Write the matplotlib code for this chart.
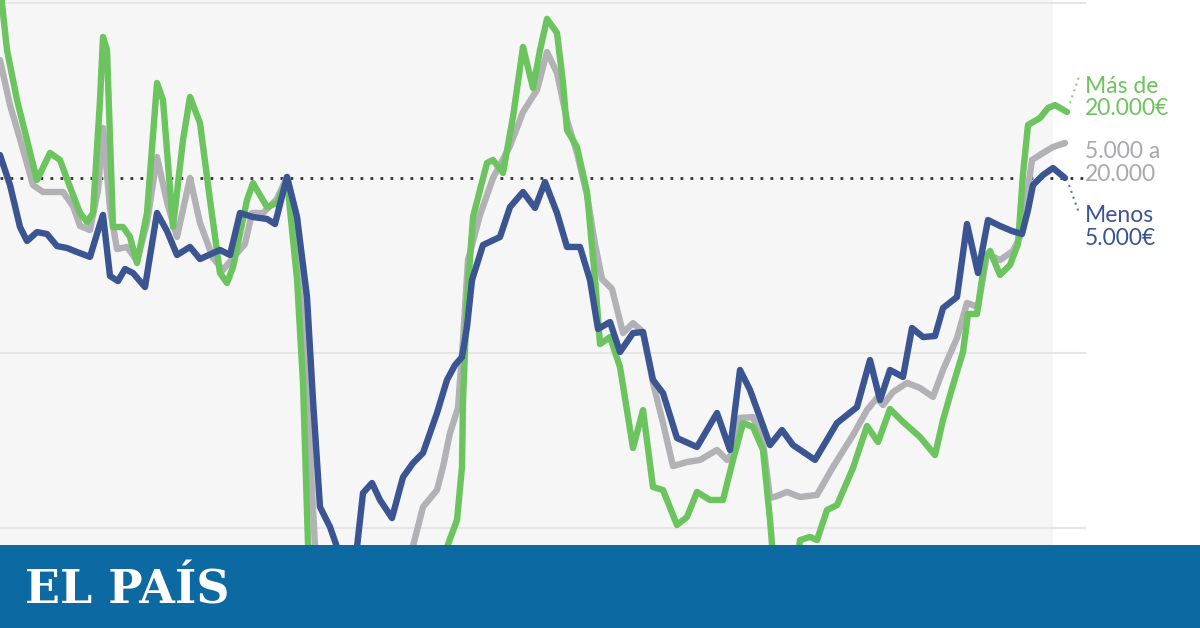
import matplotlib
matplotlib.use("Agg")
import matplotlib.pyplot as plt
from matplotlib.patches import Rectangle

# ── Data (semana, variación respecto al nivel de referencia) ─────────────────
x_menos = [0, 1.0, 2.0, 2.7, 3.7, 4.7, 5.7, 6.7, 7.7, 9.0, 10.0, 10.3, 11.0, 11.8,
           12.5, 13.3, 14.5, 15.7, 16.7, 17.7, 19.0, 20.0, 22.0, 23.0, 24.0, 25.3,
           26.7, 27.5, 28.7, 29.7, 30.7, 31.3, 32.0, 33.0, 33.7, 34.5, 35.2, 35.7,
           36.3, 37.2, 38.0, 39.2, 40.3, 41.3, 42.3, 43.7, 44.7, 45.5, 46.2, 46.7,
           47.2, 48.3, 50.0, 51.0, 52.3, 53.5, 54.5, 55.7, 56.7, 58.0, 59.0, 59.8,
           61.0, 62.0, 63.3, 64.3, 65.3, 66.3, 67.7, 69.7, 71.7, 73.0, 74.0, 75.0,
           77.0, 78.2, 79.3, 81.5, 83.7, 85.7, 87.0, 88.0, 89.0, 90.3, 91.2, 92.3,
           93.5, 94.3, 95.7, 96.7, 97.8, 98.8, 100.0, 101.2, 102.2, 102.8, 103.3,
           104.3, 105.3, 106.5]
menos = [1.31, -0.40, -2.80, -3.60, -3.09, -3.20, -3.89, -4.00, -4.23, -4.51, -2.63,
         -2.11, -5.60, -5.89, -5.20, -5.43, -6.23, -2.00, -3.03, -4.40, -3.94, -4.63,
         -4.11, -4.40, -2.00, -2.23, -2.34, -2.63, 0.06, -2.23, -6.80, -12.69, -18.80,
         -19.94, -21.09, -22.69, -22.69, -21.09, -18.00, -17.43, -18.40, -19.43, -17.09,
         -16.29, -15.71, -13.43, -11.54, -10.69, -10.23, -8.51, -5.83, -3.83, -3.37,
         -1.66, -0.80, -1.71, -0.23, -2.00, -3.94, -3.94, -5.83, -8.63, -8.23, -9.94,
         -8.86, -8.80, -11.54, -12.29, -14.86, -15.37, -13.43, -15.54, -10.97, -12.11,
         -15.26, -14.40, -15.26, -16.11, -14.00, -13.09, -10.40, -12.69, -10.97, -11.37,
         -8.57, -9.09, -9.03, -7.43, -6.80, -2.63, -5.43, -2.40, -2.74, -3.03, -3.20,
         -1.83, -0.40, 0.17, 0.57, 0.00]

x_medio = [0, 1.0, 2.0, 3.3, 4.3, 6.3, 7.3, 8.0, 9.0, 9.8, 10.3, 11.0, 11.7, 12.7,
           13.7, 14.7, 15.7, 16.7, 17.7, 19.0, 20.0, 21.3, 22.3, 23.3, 24.5, 25.2,
           26.3, 27.7, 28.7, 29.7, 30.5, 31.1, 31.5, 32.0, 41.0, 41.3, 42.3, 43.7,
           44.3, 45.0, 45.8, 46.3, 46.8, 48.0, 49.3, 51.0, 52.3, 53.7, 54.7, 55.7,
           56.7, 57.7, 58.7, 59.5, 60.2, 61.2, 62.3, 63.3, 64.3, 65.3, 66.3, 67.3,
           68.7, 70.0, 71.7, 72.7, 73.3, 74.0, 75.3, 76.3, 77.0, 77.7, 78.7, 80.0,
           81.7, 83.3, 85.3, 86.7, 87.7, 88.3, 89.3, 90.7, 92.0, 93.3, 94.3, 95.7,
           96.7, 97.8, 98.7, 100.0, 101.3, 102.0, 102.7, 103.2, 104.3, 105.3, 106.5]
medio = [6.74, 4.17, 2.23, -0.40, -0.80, -0.80, -1.60, -2.74, -2.97, -0.69, 2.86,
         -1.77, -4.06, -3.94, -4.74, -2.57, 1.20, -1.37, -3.37, 0.00, -2.57, -4.57,
         -5.26, -4.57, -3.77, -2.00, -2.00, -1.20, 0.06, -2.23, -8.11, -16.69, -21.03,
         -22.97, -22.97, -21.03, -18.80, -17.83, -16.51, -14.57, -13.14, -9.26, -4.69,
         -2.11, 0.00, 1.83, 3.77, 5.03, 7.20, 6.00, 3.31, 1.43, -0.97, -3.77, -5.77,
         -6.34, -8.86, -8.29, -8.80, -11.71, -14.00, -16.46, -16.23, -16.11, -15.54,
         -16.11, -15.66, -13.71, -13.66, -15.09, -18.29, -18.17, -17.94, -18.23, -18.11,
         -16.51, -14.69, -13.26, -12.57, -12.97, -12.23, -11.71, -12.00, -12.51, -10.97,
         -9.14, -7.14, -7.37, -4.34, -4.69, -4.17, -3.37, -0.97, 1.03, 1.43, 1.77, 2.00]

x_mas = [0, 0.7, 1.7, 2.7, 3.7, 5.0, 6.0, 7.0, 8.0, 8.7, 9.3, 10.0, 10.3, 10.7, 11.3,
         12.3, 13.0, 13.7, 14.7, 15.7, 16.3, 17.3, 18.3, 19.0, 20.0, 21.0, 22.0, 22.7,
         23.3, 24.7, 25.3, 26.7, 27.7, 28.7, 29.7, 30.3, 30.8, 31.2, 44.0, 44.7, 45.7,
         46.2, 46.3, 46.7, 47.3, 48.7, 49.3, 50.3, 51.3, 52.3, 53.3, 54.0, 54.7, 55.7,
         56.3, 56.7, 57.7, 58.7, 59.5, 60.0, 61.0, 62.0, 63.3, 64.3, 65.3, 66.3, 67.7,
         68.7, 69.7, 71.0, 72.3, 73.3, 74.3, 75.3, 76.3, 77.0, 77.5, 79.5, 80.0, 81.0,
         81.7, 82.7, 83.7, 85.3, 86.7, 87.8, 89.0, 90.3, 92.0, 93.5, 94.3, 95.3, 96.3,
         96.8, 97.7, 98.5, 99.0, 100.0, 101.0, 101.8, 102.3, 102.8, 104.0, 104.8,
         105.5, 106.7]
mas = [11.03, 7.31, 4.46, 2.17, -0.11, 1.43, 1.03, -0.51, -2.00, -2.51, -2.00, 4.46,
       8.06, 7.31, -2.80, -2.80, -3.37, -4.86, -2.00, 5.43, 4.46, -2.80, 2.17, 4.63,
       3.14, -1.26, -5.43, -6.00, -5.09, -1.26, -0.29, -1.66, -1.43, -0.11, -5.77,
       -11.71, -20.91, -23.54, -23.54, -21.09, -19.54, -16.51, -12.69, -6.97, -2.23,
       0.86, 1.03, 0.29, 3.49, 7.49, 5.14, 7.31, 9.09, 8.29, 5.43, 2.74, 1.77, -0.80,
       -5.77, -9.49, -9.09, -10.80, -15.43, -13.26, -17.66, -17.83, -19.83, -19.37,
       -17.94, -18.40, -18.40, -16.11, -14.00, -14.23, -15.54, -19.54, -22.97, -22.97,
       -20.69, -20.51, -20.69, -18.97, -18.69, -16.57, -14.17, -15.09, -13.20, -13.94,
       -14.80, -15.83, -13.83, -11.83, -9.94, -7.77, -7.77, -4.57, -4.17, -5.54, -4.97,
       -3.77, 0.23, 3.03, 3.43, 4.00, 4.17, 3.77]

grid_vals = [10, -10, -20]
labels = ["Más de\n20.000€", "5.000 a\n20.000", "Menos\n5.000€"]

c_mas = "#6cc45f"
c_medio = "#b1b1b6"
c_menos = "#3b5592"
c_banner = "#0c69a1"

# ── Figure ───────────────────────────────────────────────────────────────────
fig = plt.figure(figsize=(12, 6.28), dpi=100, facecolor="white")
ax = fig.add_axes([0, 0, 1, 1])
ax.set_xlim(0, 120)
ax.set_ylim(-25.714, 10.171)
ax.axis("off")

# panel background
ax.add_patch(Rectangle((0, -30), 105.3, 45, fc="#f6f6f6", ec="none", zorder=0))

for g in grid_vals:
    ax.plot([0, 108.5], [g, g], color="#e6e6e6", lw=1.5, zorder=1)

# reference level
ax.plot([0, 108.3], [0, 0], color="#333333", lw=2, ls=(0, (1, 2.6)), zorder=2)

line_kw = dict(lw=4.6, solid_capstyle="round", solid_joinstyle="round")
ax.plot(x_medio, medio, color=c_medio, zorder=3, **line_kw)
ax.plot(x_mas, mas, color=c_mas, zorder=4, **line_kw)
ax.plot(x_menos, menos, color=c_menos, zorder=5, **line_kw)

# leader dots to the labels
ax.plot([x_mas[-1] + 0.3, 107.9], [mas[-1] + 0.5, 5.8], color=c_mas, lw=1.5,
        ls=(0, (1, 2)), alpha=0.8, zorder=3)
ax.plot([x_menos[-1] + 0.4, 107.9], [menos[-1] - 0.4, -2.0], color=c_menos, lw=1.5,
        ls=(0, (1, 2)), alpha=0.8, zorder=3)

lab_kw = dict(fontsize=16.5, family=["Lato", "DejaVu Sans"], ha="left", va="center",
              linespacing=1.1)
ax.text(108.5, 4.6, labels[0], color=c_mas, **lab_kw)
ax.text(108.5, 0.85, labels[1], color="#a9a9ad", **lab_kw)
ax.text(108.5, -2.8, labels[2], color=c_menos, **lab_kw)

# ── Banner ───────────────────────────────────────────────────────────────────
bax = fig.add_axes([0, 0, 1, 83 / 628])
bax.set_zorder(10)
bax.set_facecolor(c_banner)
bax.set_xticks([])
bax.set_yticks([])
for s in bax.spines.values():
    s.set_visible(False)
bax.text(25 / 1200, 0.30, "EL PAÍS", color="white", fontsize=33,
         family="DejaVu Serif", weight="bold", ha="left", va="baseline",
         transform=bax.transAxes)

fig.savefig("out.png", dpi=100, facecolor="white")
